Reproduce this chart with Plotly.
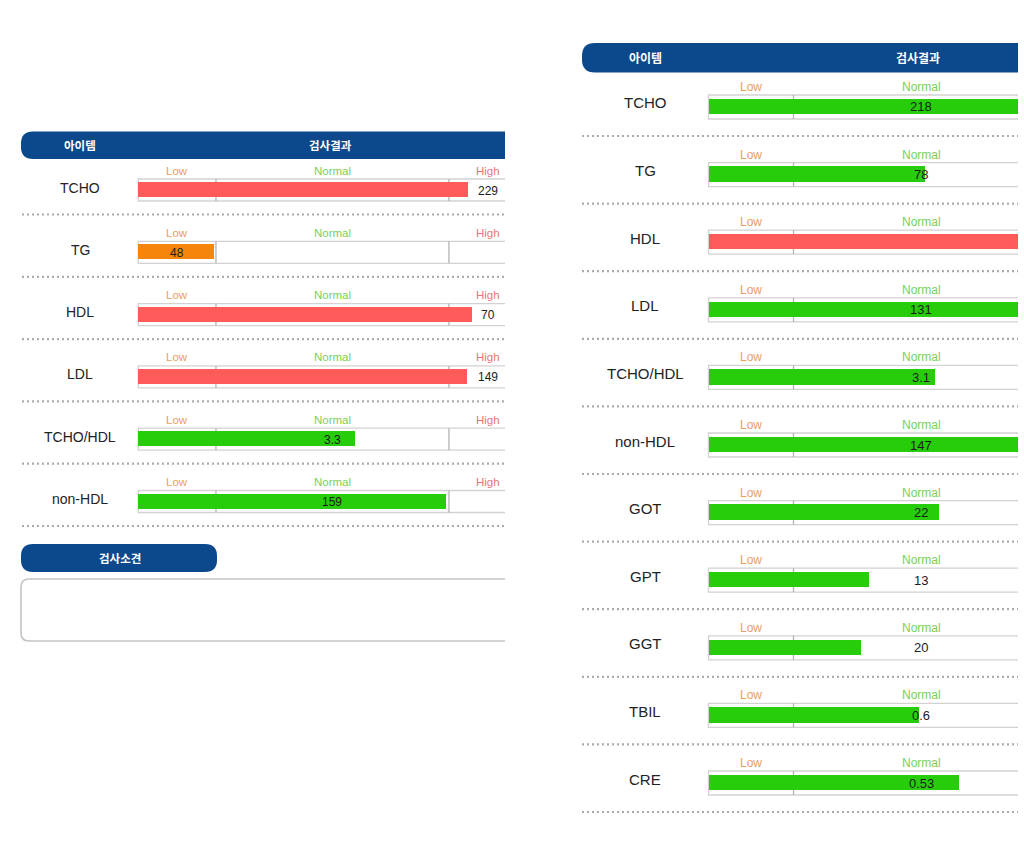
import plotly.graph_objects as go

W, H = 1024, 847

# ---------------- data ----------------
# bar lengths are read on a 0-100 gauge: Low 0-20, Normal 20-80, High 80-100
zone_names = ["Low", "Normal", "High"]
zone_bounds = [0, 20, 80, 100]
zone_centers = [10, 50, 90]

left_items = ["TCHO", "TG", "HDL", "LDL", "TCHO/HDL", "non-HDL"]
left_bar = [84.8, 19.5, 85.9, 84.6, 55.8, 79.3]
left_values = ["229", "48", "70", "149", "3.3", "159"]
left_zones = ["High", "Low", "High", "High", "Normal", "Normal"]
left_colors = ["#ff5b5b", "#f5860b", "#ff5b5b", "#ff5b5b", "#27cd0b", "#27cd0b"]

right_items = ["TCHO", "TG", "HDL", "LDL", "TCHO/HDL", "non-HDL",
               "GOT", "GPT", "GGT", "TBIL", "CRE"]
right_bar = [78, 51.0, 90, 78, 53.3, 78, 54.2, 37.8, 35.9, 49.6, 59.0]
right_values = ["218", "78", "", "131", "3.1", "147", "22", "13", "20", "0.6", "0.53"]
right_zones = ["Normal", "Normal", "High", "Normal", "Normal", "Normal",
               "Normal", "Normal", "Normal", "Normal", "Normal"]
right_colors = ["#27cd0b", "#27cd0b", "#ff5b5b", "#27cd0b", "#27cd0b", "#27cd0b",
                "#27cd0b", "#27cd0b", "#27cd0b", "#27cd0b", "#27cd0b"]

header_item = "아이템"
header_result = "검사결과"
remark_title = "검사소견"

# ---------------- styles ----------------
BLUE = "#0b488c"
ZONE_COLORS = ["#e9a05c", "#78d05a", "#e8747b"]
LATIN = "Liberation Sans, Arial, sans-serif"
KOREAN = "Noto Sans CJK KR, sans-serif"

left_cfg = dict(zero_px=138.3, ppu=3.883, vis_l=137.0, vis_r=505.0,
                c0=189.5, step=62.3, top_px=150, bot_px=535,
                bar_h=15, box_top=-10.5, box_bot=11.5, zone_off=-19,
                val_off=1, lab_off=-2, sep_off=25.0, lab_x=80,
                sep_l=22, sep_r=505, lab_size=14, zone_size=11.5, val_size=12)
right_cfg = dict(zero_px=708.5, ppu=4.25, vis_l=707.0, vis_r=1018.0,
                 c0=106.5, step=67.6, top_px=75, bot_px=822,
                 bar_h=15.5, box_top=-11.5, box_bot=12.5, zone_off=-19.5,
                 val_off=0.5, lab_off=-3.5, sep_off=29.5, lab_x=645,
                 sep_l=582, sep_r=1018, lab_size=15, zone_size=12, val_size=13)

fig = go.Figure()
shapes = []
annotations = []


def px_x(x):
    return x / W


def px_y(y):
    return 1 - y / H


def path_from_px(cmds):
    out = []
    for c in cmds:
        if c[0] == "Z":
            out.append("Z")
            continue
        letter = c[0]
        pts = c[1:]
        coords = " ".join(f"{px_x(pts[k]):.5f},{px_y(pts[k+1]):.5f}" for k in range(0, len(pts), 2))
        out.append(f"{letter} {coords}")
    return " ".join(out)


def label(x, y, xref, yref, text, font):
    annotations.append(dict(x=x, y=y, xref=xref, yref=yref, text=text, showarrow=False,
                            xanchor="center", yanchor="middle", font=font))


def add_panel(n, items, bar, values, zones, colors, cfg):
    xa = "x" if n == 1 else f"x{n}"
    ya = "y" if n == 1 else f"y{n}"
    s = cfg["step"]
    xr = [(cfg["vis_l"] - cfg["zero_px"]) / cfg["ppu"], (cfg["vis_r"] - cfg["zero_px"]) / cfg["ppu"]]
    yr = [(cfg["bot_px"] - cfg["c0"]) / s, (cfg["top_px"] - cfg["c0"]) / s]
    axis_common = dict(showgrid=False, zeroline=False, showticklabels=False,
                       showline=False, ticks="", fixedrange=True)
    fig.update_layout({
        ("xaxis" if n == 1 else f"xaxis{n}"): dict(domain=[cfg["vis_l"] / W, cfg["vis_r"] / W],
                                                  range=xr, anchor=ya, **axis_common),
        ("yaxis" if n == 1 else f"yaxis{n}"): dict(domain=[1 - cfg["bot_px"] / H, 1 - cfg["top_px"] / H],
                                                  range=yr, anchor=xa, **axis_common),
    })
    rows = list(range(len(items)))
    fig.add_trace(go.Bar(x=bar, y=rows, orientation="h", width=cfg["bar_h"] / s,
                         marker=dict(color=colors, line=dict(width=0)),
                         xaxis=xa, yaxis=ya, showlegend=False, hoverinfo="skip"))
    for i, item in enumerate(items):
        top = i + cfg["box_top"] / s
        bot = i + cfg["box_bot"] / s
        # gauge frame
        shapes.append(dict(type="rect", xref=xa, yref=ya, x0=zone_bounds[0], x1=zone_bounds[-1] + 30,
                           y0=top, y1=bot, line=dict(color="#d2d2d2", width=1.3),
                           fillcolor="white", layer="below"))
        for b in zone_bounds[1:-1]:
            shapes.append(dict(type="line", xref=xa, yref=ya, x0=b, x1=b, y0=top, y1=bot,
                               line=dict(color="#b3b3b3", width=1.3), layer="below"))
        # zone labels
        for zname, zc, zcol in zip(zone_names, zone_centers, ZONE_COLORS):
            if xr[0] <= zc <= xr[1]:
                label(zc, i + cfg["zone_off"] / s, xa, ya, zname,
                      dict(family=LATIN, size=cfg["zone_size"], color=zcol))
        # value label
        zc = zone_centers[zone_names.index(zones[i])]
        if values[i] and xr[0] <= zc <= xr[1]:
            label(zc, i + cfg["val_off"] / s, xa, ya, values[i],
                  dict(family=LATIN, size=cfg["val_size"], color="#1c1c1c"))
        # row label
        label(px_x(cfg["lab_x"]), i + cfg["lab_off"] / s, "paper", ya, item,
              dict(family=LATIN, size=cfg["lab_size"], color="#222222"))
        # dotted separator
        sy = i + cfg["sep_off"] / s
        shapes.append(dict(type="line", xref="paper", yref=ya, x0=px_x(cfg["sep_l"]), x1=px_x(cfg["sep_r"]),
                           y0=sy, y1=sy, line=dict(color="#ababab", width=2.2, dash="2px,3px")))


add_panel(1, left_items, left_bar, left_values, left_zones, left_colors, left_cfg)
add_panel(2, right_items, right_bar, right_values, right_zones, right_colors, right_cfg)


def left_round_pill(x0, x1, y0, y1, r):
    return path_from_px([
        ("M", x0 + r, y0), ("L", x1, y0), ("L", x1, y1), ("L", x0 + r, y1),
        ("Q", x0, y1, x0, y1 - r), ("L", x0, y0 + r), ("Q", x0, y0, x0 + r, y0), ("Z",)])


def full_pill(x0, x1, y0, y1, r):
    return path_from_px([
        ("M", x0 + r, y0), ("L", x1 - r, y0), ("Q", x1, y0, x1, y0 + r), ("L", x1, y1 - r),
        ("Q", x1, y1, x1 - r, y1), ("L", x0 + r, y1), ("Q", x0, y1, x0, y1 - r),
        ("L", x0, y0 + r), ("Q", x0, y0, x0 + r, y0), ("Z",)])


# header bars
shapes.append(dict(type="path", xref="paper", yref="paper",
                   path=left_round_pill(21, 505, 131.5, 159, 12), fillcolor=BLUE, line=dict(width=0)))
shapes.append(dict(type="path", xref="paper", yref="paper",
                   path=left_round_pill(582, 1018, 43, 72.5, 13), fillcolor=BLUE, line=dict(width=0)))
shapes.append(dict(type="path", xref="paper", yref="paper",
                   path=full_pill(21, 217, 544, 572, 12), fillcolor=BLUE, line=dict(width=0)))
# remark box (right side cut off)
shapes.append(dict(type="path", xref="paper", yref="paper",
                   path=path_from_px([("M", 505, 579), ("L", 29, 579), ("Q", 21, 579, 21, 587),
                                      ("L", 21, 633), ("Q", 21, 641, 29, 641), ("L", 505, 641)]),
                   line=dict(color="#c4c4c4", width=1.6)))

for text, x, y, size in [(header_item, 80, 145, 11.5), (header_result, 330, 145, 11.5),
                         (header_item, 645, 57.5, 12), (header_result, 918, 57.5, 12),
                         (remark_title, 120, 558, 11.5)]:
    label(px_x(x), px_y(y), "paper", "paper", f"<b>{text}</b>",
          dict(family=KOREAN, size=size, color="white"))

fig.update_layout(width=W, height=H, margin=dict(l=0, r=0, t=0, b=0),
                  paper_bgcolor="white", plot_bgcolor="rgba(0,0,0,0)",
                  shapes=shapes, annotations=annotations, bargap=0, showlegend=False)

fig.write_html("out.html", config={"displayModeBar": False})
